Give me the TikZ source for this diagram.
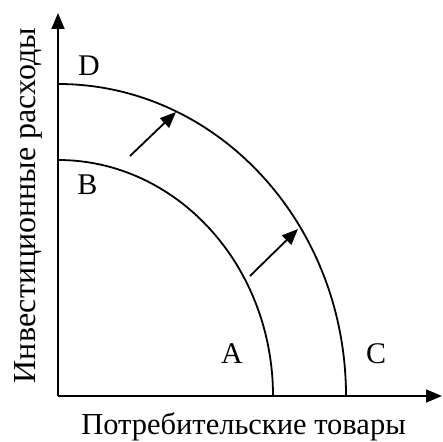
\documentclass[tikz,border=0pt]{standalone}
\usepackage{fontspec}
\setmainfont{Liberation Serif}
\usetikzlibrary{arrows.meta}
\tikzset{
  axisline/.style={line width=1.8pt,-{Triangle[length=16pt,width=13pt]}},
  curveline/.style={line width=1.8pt},
  shiftarrow/.style={line width=1.8pt,-{Triangle[length=16pt,width=13pt]}},
  ptlabel/.style={inner sep=0pt,anchor=base,font=\fontsize{30}{30}\selectfont},
  xlabelstyle/.style={inner sep=0pt,anchor=base,font=\fontsize{30.5}{30.5}\selectfont},
  ylabelstyle/.style={inner sep=0pt,anchor=base,font=\fontsize{32}{32}\selectfont}
}
\begin{document}
\begin{tikzpicture}[x=1pt,y=1pt]
\useasboundingbox (0,0) rectangle (443,441);
\coordinate (O) at (58,45);
\coordinate (ytop) at (58,428);
\coordinate (xend) at (442,45);
\coordinate (a1s) at (130,285);
\coordinate (a1e) at (176,329);
\coordinate (a2s) at (250,165);
\coordinate (a2e) at (298,212);
\draw[axisline] (O) -- (ytop);
\draw[axisline] (O) -- (xend);
\draw[curveline] (273,45) arc[start angle=0,end angle=90,x radius=215,y radius=236];
\draw[curveline] (346,45) arc[start angle=0,end angle=90,x radius=288,y radius=312];
\draw[shiftarrow] (a1s) -- (a1e);
\draw[shiftarrow] (a2s) -- (a2e);
\node[ptlabel] (D) at (89,365) {D};
\node[ptlabel] (B) at (87.5,246) {B};
\node[ptlabel] (A) at (232,78) {A};
\node[ptlabel] (C) at (376,78) {C};
\node[xlabelstyle] (xl) at (243.5,7) {Потребительские товары};
\node[ylabelstyle,rotate=90] (yl) at (35,235.5) {Инвестиционные расходы};
\end{tikzpicture}
\end{document}
